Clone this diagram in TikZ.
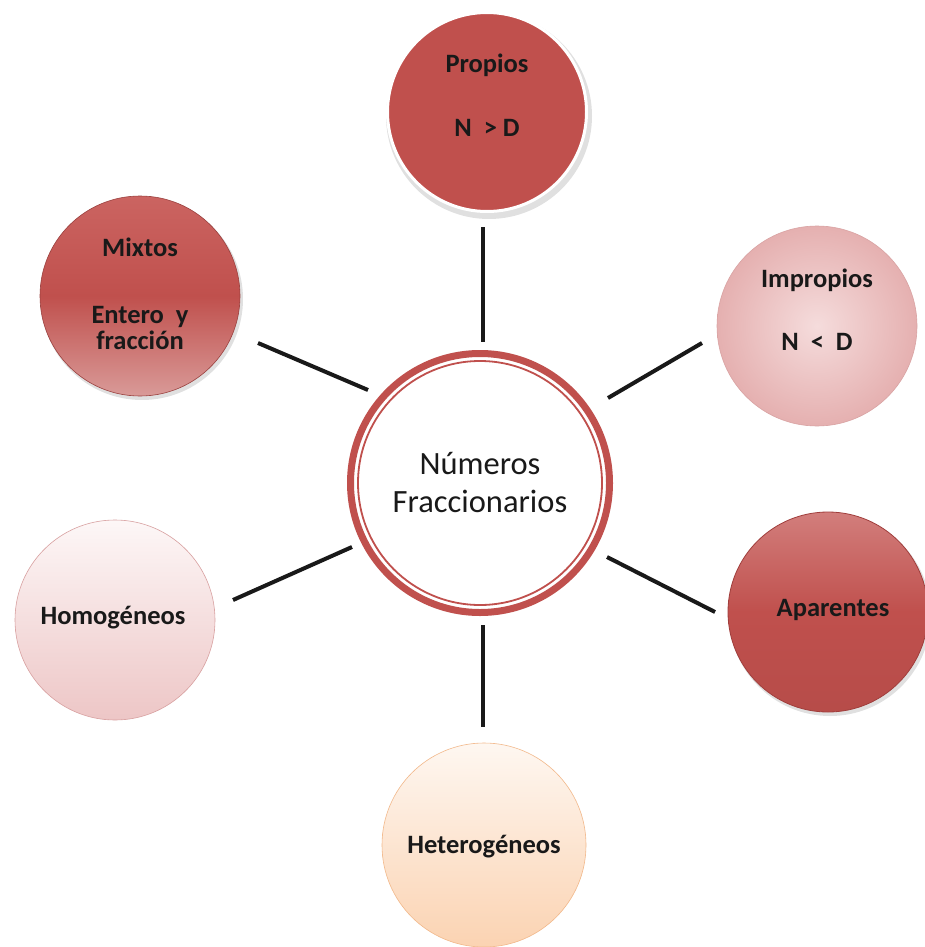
\documentclass[tikz,border=0pt]{standalone}
\usepackage{fontspec}
\setmainfont{Carlito}
\definecolor{redmain}{HTML}{C0504D}
\definecolor{redlight}{HTML}{D99A98}
\definecolor{redtop}{HTML}{CB6461}
\definecolor{aptop}{HTML}{D27E7C}
\definecolor{apedge}{HTML}{A03E3C}
\definecolor{impin}{HTML}{F5DCDC}
\definecolor{impout}{HTML}{E5B0B0}
\definecolor{impedge}{HTML}{D9A3A3}
\definecolor{homtop}{HTML}{FDF7F7}
\definecolor{hombot}{HTML}{EDC6C6}
\definecolor{homedge}{HTML}{D8A0A0}
\definecolor{hettop}{HTML}{FEF7F1}
\definecolor{hetbot}{HTML}{FBD3B2}
\definecolor{hetedge}{HTML}{F2B88A}
\tikzset{
  sat/.style={circle, minimum size=200pt, inner sep=0pt},
  lbl/.style={font=\fontsize{26.5}{28}\selectfont\bfseries, text=black!90, align=center, inner sep=0pt},
  conn/.style={line width=4pt, black!90},
  shadowc/.style={fill=black, opacity=0.12}
}
\begin{document}
\begin{tikzpicture}[x=1pt,y=-1pt]
\useasboundingbox[fill=white] (0,0) rectangle (925,947);

% shadows
\fill[shadowc] (489,116) circle (103);
\fill[shadowc] (142,299) circle (101);
\fill[shadowc] (830,615) circle (101);

% circles
\node[sat, fill=redmain, draw=white, line width=3pt, minimum size=199pt] (prop) at (487,112) {};
\node[sat, top color=redtop, bottom color=redlight, middle color=redmain, draw=redmain!80!black, line width=0.6pt] (mix) at (140,296) {};
\node[sat, inner color=impin, outer color=impout, draw=impedge, line width=0.6pt] (imp) at (817,326) {};
\node[sat, top color=homtop, bottom color=hombot, draw=homedge, line width=0.6pt] (hom) at (115,620) {};
\node[sat, top color=aptop, bottom color=redmain!95!black, middle color=redmain, draw=apedge, line width=0.8pt] (apa) at (828,612) {};
\node[sat, top color=hettop, bottom color=hetbot, draw=hetedge, line width=0.6pt, minimum size=204pt] (het) at (484,845) {};

% centre
\node[circle, minimum size=259pt, inner sep=0pt, draw=redmain, line width=7pt, fill=white,
      font=\fontsize{32.5}{38}\selectfont, align=center, text=black!90] (cen) at (480,483)
      {Números\\Fraccionarios};
\draw[redmain, line width=1.8pt] (cen.center) circle (122);

% labels
\node[lbl] (tprop) at (487,65) {Propios};
\node[lbl] (tprop2) at (487,128) {N\ \ > D};
\node[lbl] (tmix) at (140,247) {Mixtos};
\node[lbl, font=\fontsize{26.5}{26}\selectfont\bfseries] (tmix2) at (140,328) {Entero\ \ y\\fracción};
\node[lbl] (timp) at (817,280) {Impropios};
\node[lbl] (timp2) at (817,342) {N\ \ <\ \ D};
\node[lbl] (thom) at (113,618) {Homogéneos};
\node[lbl] (tapa) at (833,610) {Aparentes};
\node[lbl] (thet) at (484,847) {Heterogéneos};

% connectors
\coordinate (a1) at (483,227); \coordinate (a2) at (483,342);
\coordinate (b1) at (258,343); \coordinate (b2) at (368,390);
\coordinate (c1) at (702,343); \coordinate (c2) at (608,398);
\coordinate (d1) at (233,600); \coordinate (d2) at (352,547);
\coordinate (e1) at (607,557); \coordinate (e2) at (715,612);
\coordinate (f1) at (483,625); \coordinate (f2) at (483,727);
\draw[conn] (a1) -- (a2);
\draw[conn] (b1) -- (b2);
\draw[conn] (c1) -- (c2);
\draw[conn] (d1) -- (d2);
\draw[conn] (e1) -- (e2);
\draw[conn] (f1) -- (f2);
\end{tikzpicture}
\end{document}
